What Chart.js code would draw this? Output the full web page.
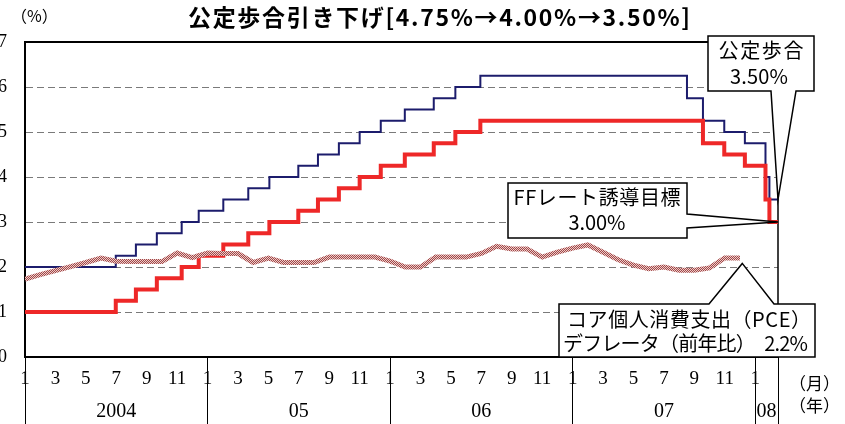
<!DOCTYPE html>
<html><head><meta charset="utf-8">
<script src="https://cdn.jsdelivr.net/npm/chart.js@4/dist/chart.umd.min.js"></script>
<style>html,body{margin:0;padding:0;background:#fff}#wrap{width:845px;height:424px;position:relative}</style>
</head><body><div id="wrap"><canvas id="c" width="845" height="424"></canvas></div>
<script>
// ---- text ----
const titleText = '公定歩合引き下げ[4.75%→4.00%→3.50%]';
const yUnit = '（%）';
const monthUnit = '（月）';
const yearUnit = '（年）';
const yearLabels = ['2004', '05', '06', '07', '08'];
const yTickValues = [0, 1, 2, 3, 4, 5, 6, 7];
const discountNote = ['公定歩合', '3.50%'];
const ffNote = ['FFレート誘導目標', '3.00%'];
const pceNote = ['コア個人消費支出（PCE）', 'デフレータ（前年比）　2.2%'];

// ---- data ----
const discountDates = ['2004-01-01','2004-06-30','2004-08-10','2004-09-21','2004-11-10','2004-12-14',
  '2005-02-02','2005-03-22','2005-05-03','2005-06-30','2005-08-09','2005-09-20','2005-11-01','2005-12-13',
  '2006-01-31','2006-03-28','2006-05-10','2006-06-29','2007-08-17','2007-09-18','2007-10-31','2007-12-11',
  '2008-01-22','2008-01-30','2008-02-16'];
const discountRates = [2.00,2.25,2.50,2.75,3.00,3.25,3.50,3.75,4.00,4.25,4.50,4.75,5.00,5.25,
  5.50,5.75,6.00,6.25,5.75,5.25,5.00,4.75,4.00,3.50,3.50];

const ffDates = ['2004-01-01','2004-06-30','2004-08-10','2004-09-21','2004-11-10','2004-12-14',
  '2005-02-02','2005-03-22','2005-05-03','2005-06-30','2005-08-09','2005-09-20','2005-11-01','2005-12-13',
  '2006-01-31','2006-03-28','2006-05-10','2006-06-29','2007-09-18','2007-10-31','2007-12-11',
  '2008-01-22','2008-01-30','2008-02-16'];
const ffRates = [1.00,1.25,1.50,1.75,2.00,2.25,2.50,2.75,3.00,3.25,3.50,3.75,4.00,4.25,
  4.50,4.75,5.00,5.25,4.75,4.50,4.25,3.50,3.00,3.00];

// core PCE deflator, y/y %, monthly Jan 2004 - Dec 2007
const pceValues = [
  1.73,1.83,1.92,2.01,2.10,2.20,2.13,2.12,2.12,2.12,2.31,2.21,
  2.31,2.30,2.30,2.10,2.20,2.10,2.10,2.10,2.22,2.22,2.22,2.22,
  2.13,2.00,2.00,2.22,2.22,2.22,2.30,2.46,2.40,2.40,2.22,2.33,
  2.42,2.49,2.33,2.16,2.04,1.96,2.00,1.93,1.93,1.98,2.20,2.20];

const X_MAX = 49.5; // months since Jan 2004 (mid-Feb 2008)

function monthPos(s) {
  const [y, m, d] = s.split('-').map(Number);
  const dim = new Date(y, m, 0).getDate();
  return (y - 2004) * 12 + (m - 1) + (d - 1) / dim;
}
function stepPoints(dates, vals) { return dates.map((d, i) => ({x: monthPos(d), y: vals[i]})); }

const monthTicks = [];
for (let i = 0; i <= 48; i++) monthTicks.push(i);
monthTicks.push(X_MAX);
const yearTicks = [0, 6, 12, 18, 24, 30, 36, 42, 48, 48.75, X_MAX];
const yearMidIndex = {6: 0, 18: 1, 30: 2, 42: 3, 48.75: 4};
const isBoundary = v => v === X_MAX || (Number.isInteger(v) && v % 12 === 0);

function makePattern() {
  const c = document.createElement('canvas'); c.width = 2; c.height = 2;
  const g = c.getContext('2d');
  g.fillStyle = '#a24848'; g.fillRect(0, 0, 2, 2);
  g.fillStyle = '#ecccca'; g.fillRect(0, 0, 1, 1); g.fillRect(1, 1, 1, 1);
  return g.createPattern(c, 'repeat');
}

const SERIF = "'Liberation Serif', 'DejaVu Serif', serif";
const GOTH = "'Noto Sans CJK JP', 'Noto Sans', sans-serif";

function fitText(ctx, text, x, cy, targetW, align) {
  ctx.textBaseline = 'middle';
  ctx.textAlign = 'left';
  if ('letterSpacing' in ctx) ctx.letterSpacing = '0px';
  const w = ctx.measureText(text).width;
  const n = [...text].length;
  let ls = 0;
  if (targetW && n > 1 && 'letterSpacing' in ctx) { ls = (targetW - w) / (n - 1); ctx.letterSpacing = ls + 'px'; }
  const total = targetW || w;
  const x0 = align === 'center' ? x - total / 2 : x;
  ctx.fillText(text, x0, cy);
  if ('letterSpacing' in ctx) ctx.letterSpacing = '0px';
}

function callout(ctx, pts) {
  ctx.beginPath();
  pts.forEach((p, i) => i ? ctx.lineTo(p[0], p[1]) : ctx.moveTo(p[0], p[1]));
  ctx.closePath();
  ctx.fillStyle = '#fff'; ctx.fill();
  ctx.lineWidth = 1.5; ctx.strokeStyle = '#000'; ctx.lineJoin = 'miter'; ctx.stroke();
}

const overlay = {
  id: 'overlay',
  beforeDatasetsDraw(chart) {
    const {ctx, chartArea: a} = chart;
    ctx.save(); ctx.strokeStyle = '#000';
    ctx.lineWidth = 2; ctx.beginPath(); ctx.moveTo(a.left - 1, a.top); ctx.lineTo(a.right, a.top); ctx.stroke();
    ctx.lineWidth = 1.5; ctx.beginPath(); ctx.moveTo(a.right, a.top); ctx.lineTo(a.right, a.bottom); ctx.stroke();
    ctx.restore();
  },
  afterDraw(chart) {
    const {ctx} = chart;
    const xs = chart.scales.x, ys = chart.scales.y;
    ctx.save();
    // title & units
    ctx.fillStyle = '#000';
    ctx.font = 'bold 23px ' + GOTH;
    fitText(ctx, titleText, 439, 17, 502, 'center');
    ctx.font = '16px ' + GOTH;
    fitText(ctx, yUnit, 11, 16, 0, 'left');
    ctx.font = '17px ' + GOTH;
    fitText(ctx, monthUnit, 789, 384, 0, 'left');
    fitText(ctx, yearUnit, 789, 406, 0, 'left');

    // discount callout
    const t1x = xs.getPixelForValue(X_MAX), t1y = ys.getPixelForValue(3.5);
    callout(ctx, [[708,36],[814,36],[814,91],[796,91],[t1x,t1y],[771,91],[708,91]]);
    // FF callout
    const t2x = xs.getPixelForValue(X_MAX), t2y = ys.getPixelForValue(3.0);
    callout(ctx, [[508,183],[687,183],[687,214],[t2x,t2y],[687,228],[687,238],[508,238]]);
    // PCE callout
    const t3x = xs.getPixelForValue(47.15), t3y = ys.getPixelForValue(2.08);
    callout(ctx, [[559,304],[709,304],[t3x,t3y],[774,304],[815,304],[815,357],[559,357]]);

    ctx.fillStyle = '#000';
    ctx.font = '20px ' + GOTH;
    fitText(ctx, discountNote[0], 761, 50, 85, 'center');
    fitText(ctx, discountNote[1], 759, 76, 58, 'center');
    fitText(ctx, ffNote[0], 597, 197, 167, 'center');
    fitText(ctx, ffNote[1], 597, 222, 57, 'center');
    fitText(ctx, pceNote[0], 567, 319, 244, 'left');
    fitText(ctx, pceNote[1], 563, 343, 245, 'left');
    ctx.restore();
  }
};

new Chart(document.getElementById('c'), {
  type: 'line',
  data: {
    datasets: [
      {label: 'コア個人消費支出(PCE)デフレータ', data: pceValues.map((v, i) => ({x: i, y: v})),
       borderColor: makePattern(), borderWidth: 5, pointRadius: 0, tension: 0, fill: false},
      {label: 'FFレート誘導目標', data: stepPoints(ffDates, ffRates), stepped: true,
       borderColor: '#ee2828', borderWidth: 4, pointRadius: 0, fill: false},
      {label: '公定歩合', data: stepPoints(discountDates, discountRates), stepped: true,
       borderColor: '#1c1c6c', borderWidth: 2, pointRadius: 0, fill: false}
    ]
  },
  options: {
    responsive: false, animation: false, devicePixelRatio: 1,
    layout: {padding: {left: 0, right: 67, top: 42, bottom: 0}},
    plugins: {legend: {display: false}, tooltip: {enabled: false}, title: {display: false}},
    scales: {
      x: {
        type: 'linear', position: 'bottom', min: 0, max: X_MAX, weight: 0,
        afterBuildTicks: s => { s.ticks = monthTicks.map(v => ({value: v})); },
        afterFit: s => { s.height = 34; },
        ticks: {autoSkip: false, maxRotation: 0, minRotation: 0, padding: -23, color: '#000',
          font: {family: SERIF, size: 19},
          callback: v => (Number.isInteger(v) && v <= 48 && (v % 12) % 2 === 0) ? String(v % 12 + 1) : ''},
        grid: {drawOnChartArea: false, drawTicks: true, tickLength: 34, lineWidth: 1,
          color: c => (c.tick && isBoundary(c.tick.value)) ? '#000' : 'rgba(0,0,0,0)'},
        border: {display: true, color: '#000', width: 2}
      },
      x2: {
        type: 'linear', position: 'bottom', min: 0, max: X_MAX, weight: 1,
        afterBuildTicks: s => { s.ticks = yearTicks.map(v => ({value: v})); },
        afterFit: s => { s.height = 33; },
        ticks: {autoSkip: false, maxRotation: 0, minRotation: 0, padding: -24, color: '#000',
          font: {family: SERIF, size: 20},
          callback: v => (v in yearMidIndex) ? yearLabels[yearMidIndex[v]] : ''},
        grid: {drawOnChartArea: false, drawTicks: true, tickLength: 33, lineWidth: 1,
          color: c => (c.tick && isBoundary(c.tick.value)) ? '#000' : 'rgba(0,0,0,0)'},
        border: {display: false}
      },
      y: {
        type: 'linear', position: 'left', min: 0, max: 7,
        afterBuildTicks: s => { s.ticks = yTickValues.map(v => ({value: v})); },
        afterFit: s => { s.width = 25; },
        ticks: {padding: 18, color: '#000', font: {family: SERIF, size: 18}},
        grid: {drawTicks: false, lineWidth: 1,
          color: c => (c.tick && (c.tick.value === 0 || c.tick.value === 7)) ? 'rgba(0,0,0,0)' : '#7a7a7a'},
        border: {display: true, color: '#000', width: 2, dash: [7, 4]}
      }
    }
  },
  plugins: [overlay]
});
</script></body></html>
